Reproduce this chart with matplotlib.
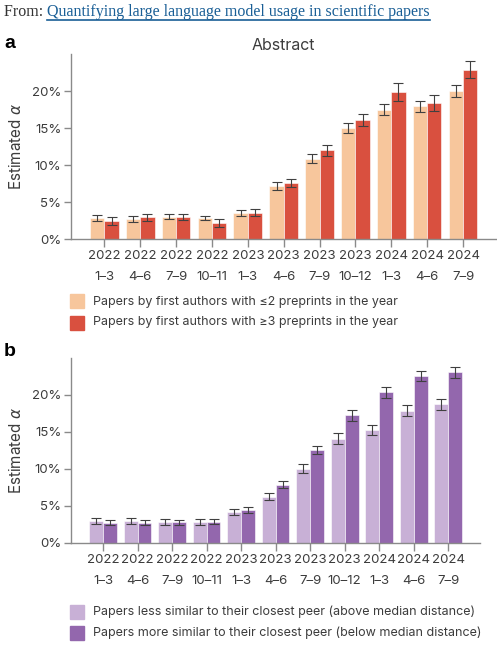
import numpy as np
import matplotlib
matplotlib.use('Agg')
from matplotlib import pyplot as plt
from matplotlib.patches import Rectangle
from matplotlib.lines import Line2D

# data (percent)
periods = ['2022\n1–3', '2022\n4–6', '2022\n7–9', '2022\n10–11', '2023\n1–3', '2023\n4–6',
           '2023\n7–9', '2023\n10–12', '2024\n1–3', '2024\n4–6', '2024\n7–9']

a_low = [2.9, 2.75, 3.05, 2.9, 3.6, 7.15, 10.9, 15.0, 17.5, 17.95, 19.95]
a_low_err = [0.43, 0.43, 0.36, 0.3, 0.4, 0.52, 0.58, 0.72, 0.74, 0.72, 0.81]
a_high = [2.45, 2.95, 3.0, 2.2, 3.6, 7.6, 12.0, 16.1, 19.9, 18.4, 22.9]
a_high_err = [0.5, 0.47, 0.45, 0.5, 0.45, 0.56, 0.74, 0.77, 1.2, 1.06, 1.2]

b_less = [2.95, 2.85, 2.8, 2.8, 4.1, 6.2, 10.0, 14.0, 15.2, 17.8, 18.7]
b_less_err = [0.4, 0.4, 0.4, 0.4, 0.4, 0.47, 0.6, 0.74, 0.74, 0.77, 0.75]
b_more = [2.7, 2.7, 2.75, 2.8, 4.4, 7.8, 12.5, 17.2, 20.3, 22.5, 23.0]
b_more_err = [0.4, 0.4, 0.35, 0.35, 0.4, 0.5, 0.6, 0.77, 0.72, 0.68, 0.72]

legend_a = ['Papers by first authors with ≤2 preprints in the year',
            'Papers by first authors with ≥3 preprints in the year']
legend_b = ['Papers less similar to their closest peer (above median distance)',
            'Papers more similar to their closest peer (below median distance)']

col_a = ['#f7c69c', '#d9503f']
col_b = ['#c8b0d6', '#9367ad']

W, H = 497, 645
plt.rcParams['font.family'] = ['Inter', 'DejaVu Sans']
fig = plt.figure(figsize=(W / 100, H / 100), dpi=100)


def px_axes(x0, y0, x1, y1):
    # pixel box (top-left origin) -> figure axes
    return fig.add_axes([x0 / W, 1 - y1 / H, (x1 - x0) / W, (y1 - y0) / H])


def draw_panel(ax, s1, e1, s2, e2, cols):
    x = np.arange(len(periods))
    bw = 0.4
    ax.bar(x - bw / 2, s1, bw, color=cols[0], edgecolor='white', linewidth=0.4, zorder=2)
    ax.bar(x + bw / 2, s2, bw, color=cols[1], edgecolor='white', linewidth=0.4, zorder=2)
    ax.errorbar(x - bw / 2, s1, yerr=e1, fmt='none', ecolor='#404040', elinewidth=0.8,
                capsize=3.7, capthick=0.8, zorder=3)
    ax.errorbar(x + bw / 2, s2, yerr=e2, fmt='none', ecolor='#404040', elinewidth=0.8,
                capsize=3.7, capthick=0.8, zorder=3)
    ax.set_xlim(-0.93, 10.92)
    ax.set_ylim(0, 25)
    ax.set_yticks([0, 5, 10, 15, 20])
    ax.set_yticklabels(['0%', '5%', '10%', '15%', '20%'])
    ax.set_xticks(x)
    ax.set_xticklabels(periods, linespacing=2.0)
    for s in ['top', 'right']:
        ax.spines[s].set_visible(False)
    for s in ['left', 'bottom']:
        ax.spines[s].set_color('#8a8a8a')
        ax.spines[s].set_linewidth(1.0)
    ax.tick_params(axis='both', colors='#8a8a8a', labelcolor='#3c3c3c', labelsize=9.5,
                   width=1.0)
    ax.tick_params(axis='y', length=5, pad=2)
    ax.tick_params(axis='x', length=6, pad=2)
    ax.set_ylabel('Estimated $\\alpha$', fontsize=11, color='#3c3c3c', labelpad=6)


ax1 = px_axes(71, 54, 496, 239.3)
draw_panel(ax1, a_low, a_low_err, a_high, a_high_err, col_a)
ax1.set_title('Abstract', fontsize=11.5, color='#3c3c3c', pad=3)

ax2 = px_axes(71, 357.5, 480, 542.5)
draw_panel(ax2, b_less, b_less_err, b_more, b_more_err, col_b)


def legend_rows(labels, cols, y0):
    for i, (lab, c) in enumerate(zip(labels, cols)):
        yc = y0 + i * 21
        fig.patches.append(Rectangle((70 / W, 1 - (yc + 7) / H), 14 / W, 14 / H,
                                     transform=fig.transFigure, color=c))
        fig.text(93 / W, 1 - yc / H, lab, fontsize=9.0, color='#3c3c3c', va='center')


legend_rows(legend_a, col_a, 301.5)
legend_rows(legend_b, col_b, 612)

# panel letters
fig.text(4 / W, 1 - 44 / H, 'a', fontsize=14, fontweight='bold', va='center',
         family=['Liberation Sans', 'DejaVu Sans'])
fig.text(4 / W, 1 - 352 / H, 'b', fontsize=14, fontweight='bold', va='center',
         family=['Liberation Sans', 'DejaVu Sans'])

# header with link
t1 = fig.text(4 / W, 1 - 12 / H, 'From: ', fontsize=11.5, color='#333333', va='center',
              family=['Liberation Serif', 'DejaVu Serif'])
fig.canvas.draw()
bb = t1.get_window_extent()
t2 = fig.text(bb.x1 / W, 1 - 12 / H, 'Quantifying large language model usage in scientific papers',
              fontsize=11.5, color='#1a5f96', va='center', family=['Liberation Serif', 'DejaVu Serif'])
fig.canvas.draw()
bb2 = t2.get_window_extent()
fig.lines.append(Line2D([bb2.x0 / W, bb2.x1 / W], [1 - 20 / H, 1 - 20 / H],
                        transform=fig.transFigure, color='#1a5f96', linewidth=1.2))

fig.savefig('out.png', dpi=100)
